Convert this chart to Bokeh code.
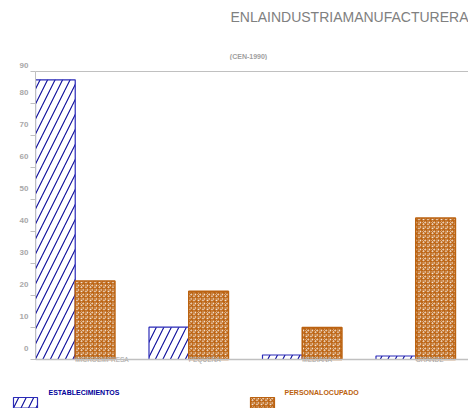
from bokeh.plotting import figure
from bokeh.models import (Range1d, LinearAxis, FixedTicker, Span)
from bokeh.layouts import column
from bokeh.embed import file_html
from bokeh.resources import INLINE
from bokeh.core.properties import value

# ---- data ----
categories = ["MICROEMPRESA", "PEQUEÑA", "MEDIANA", "GRANDE"]
establecimientos = [87.4, 10.1, 1.4, 1.1]
personal_ocupado = [24.5, 21.3, 10.0, 44.2]
y_ticks = [0, 10, 20, 30, 40, 50, 60, 70, 80, 90]
y_tick_labels = ["0", "10", "20", "30", "40", "50", "60", "70", "80", "90"]
series_names = ["ESTABLECIMIENTOS", "PERSONALOCUPADO"]
title_text = "ENLAINDUSTRIAMANUFACTURERA"
subtitle_text = "(CEN-1990)"

BLUE_LINE = "#2a2ab8"
BLUE_HATCH = "#0a0a9a"
BLUE_TEXT = "#000099"
BROWN = "#bb6210"
GRAY = "#c0c0c0"
FONT = "Liberation Sans"
W = 468

# ---- title strip ----
tf = figure(width=W, height=60, output_backend="svg", toolbar_location=None,
            x_range=Range1d(0, W), y_range=Range1d(60, 0),
            x_axis_location=None, y_axis_location=None,
            min_border=0, min_border_left=0, min_border_right=0,
            min_border_top=0, min_border_bottom=0)
tf.frame_align = False
tf.xgrid.visible = False
tf.ygrid.visible = False
tf.outline_line_color = None
tf.text(x=[W], y=[16], text=[title_text], text_font=value(FONT), text_font_size="14px",
        text_color="#808080", text_align="right", text_baseline="middle")
tf.text(x=[248], y=[56], text=[subtitle_text], text_font=value(FONT), text_font_size="7px",
        text_font_style="bold", text_color="#a0a0a0", text_align="center", text_baseline="middle")

# ---- main chart ----
idx = list(range(len(categories)))
BW = 0.35
xe = [i + BW / 2 for i in idx]
xp = [i + BW * 1.5 for i in idx]
xl = [i + BW for i in idx]

p = figure(width=W, height=320, output_backend="svg", toolbar_location=None,
           x_range=Range1d(0, 3.815), y_range=Range1d(-2.5, 90),
           x_axis_location=None,
           min_border_left=35, min_border_right=0, min_border_bottom=13, min_border_top=11)
p.frame_align = False
p.outline_line_color = None
p.xgrid.visible = False
p.ygrid.visible = False

p.vbar(x=xe, top=establecimientos, width=BW, fill_color="white",
       line_color=BLUE_LINE, line_width=1.2,
       hatch_pattern="right_diagonal_line", hatch_color=BLUE_HATCH,
       hatch_scale=15, hatch_weight=1.1)
p.vbar(x=xp, top=personal_ocupado, width=BW, fill_color="white",
       line_color=BROWN, line_width=1.5,
       hatch_pattern="criss_cross", hatch_color=BROWN,
       hatch_scale=4.5, hatch_weight=1.15)

# baseline (x axis line)
p.add_layout(Span(location=0, dimension="width", line_color=GRAY, line_width=1.5))

# category labels overlapping the baseline
p.text(x=xl, y=[0] * len(xl), text=categories, text_font=value(FONT), text_font_size="6.5px",
       text_color="#a0a0a0", text_align="left", text_baseline="middle")

# y axis: labels sit above their ticks as in the reference
ya = p.yaxis[0]
ya.bounds = (0, 90)
ya.ticker = FixedTicker(ticks=y_ticks)
ya.major_label_overrides = {v: t + "\n\n" for v, t in zip(y_ticks, y_tick_labels)}
ya.major_label_text_baseline = "middle"
ya.major_label_text_font = FONT
ya.major_label_text_font_size = "8px"
ya.major_label_text_font_style = "bold"
ya.major_label_text_color = "#a8a8a8"
ya.major_label_standoff = 2
ya.axis_line_color = GRAY
ya.major_tick_line_color = GRAY
ya.major_tick_out = 5
ya.major_tick_in = 0
ya.minor_tick_line_color = None

top_axis = LinearAxis(ticker=FixedTicker(ticks=[]), axis_line_color=GRAY,
                      major_tick_line_color=None, minor_tick_line_color=None,
                      major_tick_out=0, major_label_standoff=0)
p.add_layout(top_axis, "above")

# ---- legend strip ----
lg = figure(width=W, height=28, output_backend="svg", toolbar_location=None,
            x_range=Range1d(0, W), y_range=Range1d(28, 0),
            x_axis_location=None, y_axis_location=None,
            min_border=0, min_border_left=0, min_border_right=0,
            min_border_top=0, min_border_bottom=0)
lg.frame_align = False
lg.xgrid.visible = False
lg.ygrid.visible = False
lg.outline_line_color = None
lg.quad(left=[13], right=[37], top=[17], bottom=[27.5], fill_color="white",
        line_color=BLUE_LINE, line_width=1.2, hatch_pattern="right_diagonal_line",
        hatch_color=BLUE_HATCH, hatch_scale=15, hatch_weight=1.1)
lg.quad(left=[250], right=[274], top=[17], bottom=[27.5], fill_color="white",
        line_color=BROWN, line_width=1.2, hatch_pattern="criss_cross",
        hatch_color=BROWN, hatch_scale=4.5, hatch_weight=1.15)
lg.text(x=[48], y=[12], text=[series_names[0]], text_font=value(FONT), text_font_size="7px",
        text_font_style="bold", text_color=BLUE_TEXT, text_baseline="middle")
lg.text(x=[284], y=[12], text=[series_names[1]], text_font=value(FONT), text_font_size="7px",
        text_font_style="bold", text_color=BROWN, text_baseline="middle")

layout = column(tf, p, lg, spacing=0)
open("out.html", "w").write(file_html(layout, INLINE))
